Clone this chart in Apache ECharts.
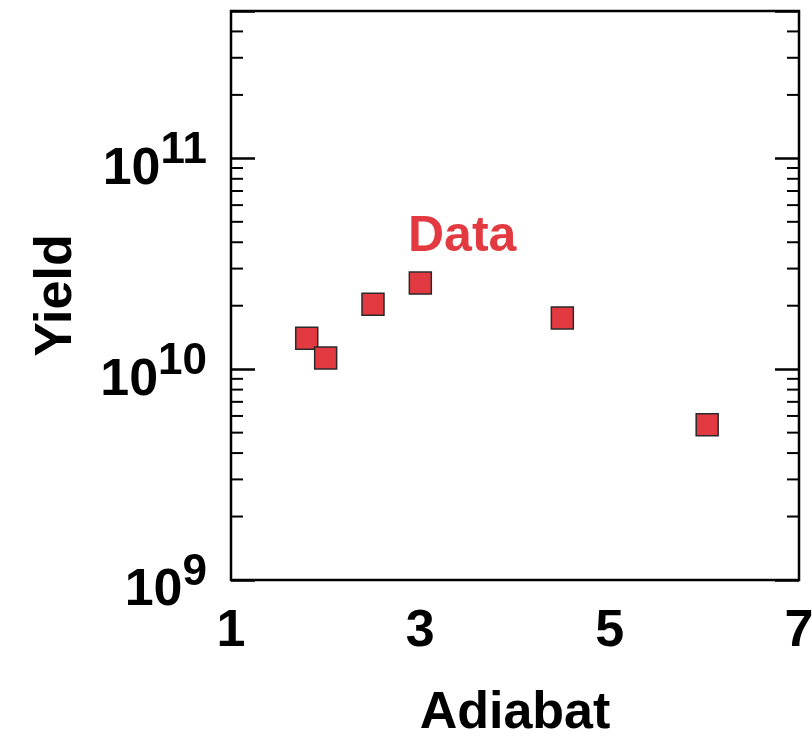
<!DOCTYPE html>
<html>
<head>
<meta charset="utf-8">
<script src="https://cdn.jsdelivr.net/npm/echarts@6/dist/echarts.min.js"></script>
<style>
  html, body { margin: 0; padding: 0; background: #fff; }
  #chart { width: 812px; height: 736px; }
</style>
</head>
<body>
<div id="chart"></div>
<script>
// Yield versus adiabat
const seriesName = 'Data';
const adiabat = [1.8, 2.0, 2.5, 3.0, 4.5, 6.03];
const yieldValues = [1.4e10, 1.13e10, 2.03e10, 2.56e10, 1.75e10, 5.45e9];

// Axis ranges and tick positions
const xMin = 1, xMax = 7, xStep = 2;
const yMin = 1e9, yMax = 5e11;
const minorTicks = [
  2e9, 3e9, 4e9, 5e9, 6e9, 7e9, 8e9, 9e9,
  2e10, 3e10, 4e10, 5e10, 6e10, 7e10, 8e10, 9e10,
  2e11, 3e11, 4e11
];

const FONT = 'Liberation Sans, Arial, Helvetica, sans-serif';
const RED = '#e23a40';

const chart = echarts.init(document.getElementById('chart'), null, { renderer: 'canvas' });

function powerLabel(value) {
  const e = Math.round(Math.log10(value));
  if (Math.abs(value / Math.pow(10, e) - 1) > 1e-6) return '';
  return '{b|10}{s|' + e + '}';
}

const yLabelRich = {
  b: { fontSize: 52, fontWeight: 'bold', fontFamily: FONT, color: '#000', verticalAlign: 'bottom' },
  s: { fontSize: 44, fontWeight: 'bold', fontFamily: FONT, color: '#000', verticalAlign: 'bottom', padding: [0, 0, 22, 0] }
};

const option = {
  animation: false,
  backgroundColor: '#fff',
  grid: {
    left: 231, top: 11, right: 13, bottom: 156,
    outerBoundsMode: 'none',
    containLabel: false,
    show: true, borderColor: '#000', borderWidth: 2.5, backgroundColor: 'transparent'
  },
  legend: {
    data: [seriesName],
    icon: 'none',
    itemWidth: 0,
    left: 398,
    top: 207,
    selectedMode: false,
    textStyle: { color: RED, fontSize: 50, fontWeight: 'bold', fontFamily: FONT }
  },
  xAxis: {
    type: 'value',
    min: xMin, max: xMax, interval: xStep,
    name: 'Adiabat',
    nameLocation: 'middle',
    nameGap: 108,
    nameTextStyle: { fontSize: 52, fontWeight: 'bold', fontFamily: FONT, color: '#000' },
    axisLine: { show: false },
    axisTick: { show: false },
    splitLine: { show: false },
    axisLabel: { margin: 26, fontSize: 52, fontWeight: 'bold', fontFamily: FONT, color: '#000' }
  },
  yAxis: [
    {
      type: 'log', logBase: 10, min: yMin, max: yMax,
      name: 'Yield',
      nameLocation: 'middle',
      nameGap: 148,
      nameRotate: 90,
      nameTextStyle: { fontSize: 52, fontWeight: 'bold', fontFamily: FONT, color: '#000' },
      axisLine: { show: false },
      axisTick: { show: true, inside: true, length: 24, lineStyle: { color: '#000', width: 2.5 } },
      splitLine: { show: false },
      minorTick: { show: false },
      axisLabel: { margin: 24, formatter: powerLabel, rich: yLabelRich, padding: [8, 0, 0, 0] }
    },
    {
      type: 'log', logBase: 10, min: yMin, max: yMax,
      position: 'right',
      axisLine: { show: false },
      axisTick: { show: true, inside: true, length: 24, lineStyle: { color: '#000', width: 2.5 } },
      splitLine: { show: false },
      axisLabel: { show: false }
    }
  ],
  series: [
    {
      name: seriesName,
      type: 'scatter',
      symbol: 'rect',
      symbolSize: 22,
      itemStyle: { color: RED, borderColor: '#2a2a2a', borderWidth: 1.5, opacity: 1 },
      data: adiabat.map((x, i) => [x, yieldValues[i]]),
      z: 5
    },
    {
      // short minor ticks on the left and right frame edges
      name: 'minor',
      type: 'custom',
      silent: true,
      data: minorTicks.map(v => [xMin, v]),
      renderItem: function (params, api) {
        const v = api.value(1);
        const l = api.coord([xMin, v]);
        const r = api.coord([xMax, v]);
        const style = { stroke: '#000', lineWidth: 2 };
        return {
          type: 'group',
          children: [
            { type: 'line', shape: { x1: l[0], y1: l[1], x2: l[0] + 12, y2: l[1] }, style: style },
            { type: 'line', shape: { x1: r[0], y1: r[1], x2: r[0] - 12, y2: r[1] }, style: style }
          ]
        };
      },
      z: 3
    }
  ]
};

chart.setOption(option);
</script>
</body>
</html>
